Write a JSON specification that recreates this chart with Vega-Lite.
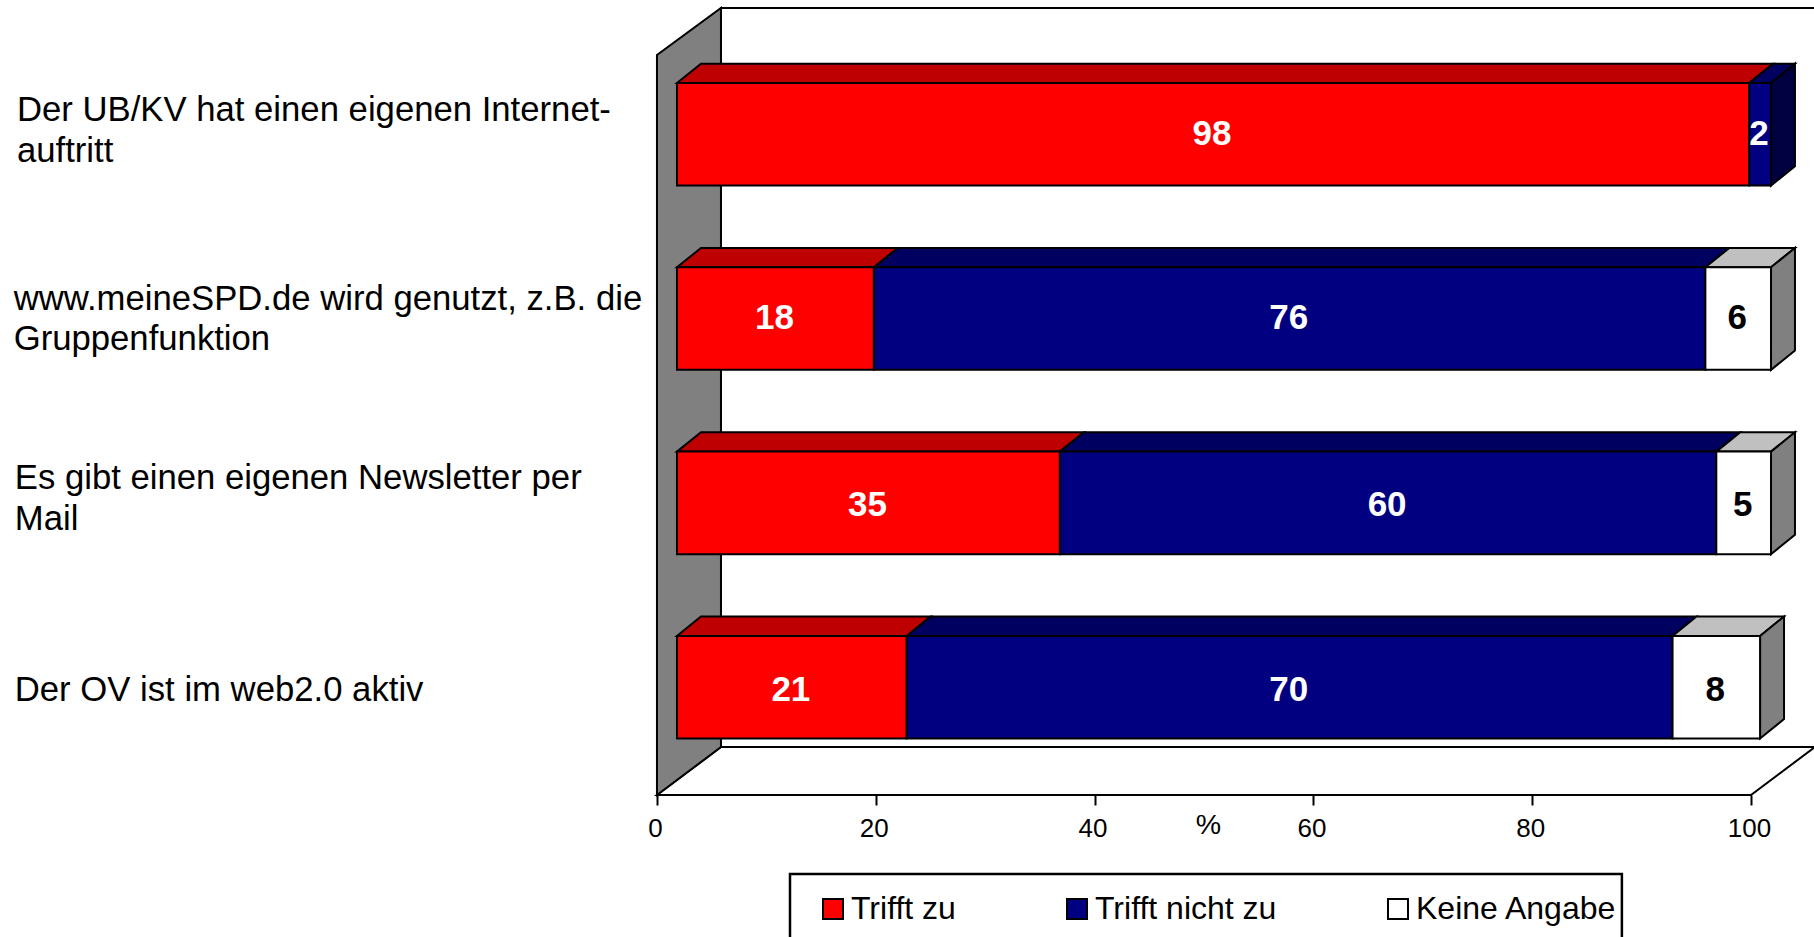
{
"$schema":"https://vega.github.io/schema/vega-lite/v6.json",
"width":1814,"height":937,"padding":0,"autosize":{"type":"none"},"background":"white",
"config":{"view":{"stroke":null},"font":"Liberation Sans"},
"datasets":{
"antworten":[
{"frage":"Der UB/KV hat einen eigenen Internet-\nauftritt","antwort":"Trifft zu","prozent":98},
{"frage":"Der UB/KV hat einen eigenen Internet-\nauftritt","antwort":"Trifft nicht zu","prozent":2},
{"frage":"www.meineSPD.de wird genutzt, z.B. die\nGruppenfunktion","antwort":"Trifft zu","prozent":18},
{"frage":"www.meineSPD.de wird genutzt, z.B. die\nGruppenfunktion","antwort":"Trifft nicht zu","prozent":76},
{"frage":"www.meineSPD.de wird genutzt, z.B. die\nGruppenfunktion","antwort":"Keine Angabe","prozent":6},
{"frage":"Es gibt einen eigenen Newsletter per\nMail","antwort":"Trifft zu","prozent":35},
{"frage":"Es gibt einen eigenen Newsletter per\nMail","antwort":"Trifft nicht zu","prozent":60},
{"frage":"Es gibt einen eigenen Newsletter per\nMail","antwort":"Keine Angabe","prozent":5},
{"frage":"Der OV ist im web2.0 aktiv","antwort":"Trifft zu","prozent":21},
{"frage":"Der OV ist im web2.0 aktiv","antwort":"Trifft nicht zu","prozent":70},
{"frage":"Der OV ist im web2.0 aktiv","antwort":"Keine Angabe","prozent":8}
],
"seitenwand":[{"a":0,"b":3.589,"c":-0.426},{"a":5.85,"b":3.329,"c":-0.681}],
"boden":[{"a":0,"b":100,"c":3.589},{"a":5.85,"b":105.85,"c":3.329}],
"rueckwand":[{"a":5.85,"b":106,"c":-0.681,"d":3.329}],
"legendenrahmen":[{"a":12.16,"b":88.2,"c":4.018,"d":4.5}]
},
"layer":[
{"data":{"name":"rueckwand"},"mark":{"type":"rect","fill":"white","stroke":"black","strokeWidth":2},
 "encoding":{"x":{"field":"a","type":"quantitative","scale":{"domain":[-60.05,105.76],"nice":false,"zero":false},"axis":{"values":[0,20,40,60,80,100],"title":"%","titleFontSize":28.5,"titleFontWeight":"normal","titleColor":"black","titleX":1208,"titleY":38,"titleBaseline":"alphabetic","domain":false,"grid":false,"ticks":true,"tickColor":"black","tickWidth":2,"tickSize":10,"labelFontSize":26,"labelColor":"black","labelPadding":10,"labelOffset":-2,"labelFlush":false,"labelOverlap":false,"offset":-142,"zindex":1}},"x2":{"field":"b"},
 "y":{"field":"c","type":"quantitative","scale":{"domain":[-0.7244,4.3597],"reverse":true,"nice":false,"zero":false},"axis":null},"y2":{"field":"d"}}},
{"data":{"name":"boden"},"mark":{"type":"area","orient":"horizontal","fill":"white","stroke":"black","strokeWidth":2},
 "encoding":{"x":{"field":"a","type":"quantitative"},"x2":{"field":"b"},
 "y":{"field":"c","type":"quantitative","axis":null}}},
{"data":{"name":"seitenwand"},"mark":{"type":"area","orient":"vertical","fill":"#808080","stroke":"black","strokeWidth":2},
 "encoding":{"x":{"field":"a","type":"quantitative"},"y":{"field":"b","type":"quantitative","axis":null},"y2":{"field":"c"}}},
{"data":{"name":"legendenrahmen"},"mark":{"type":"rect","fill":"white","stroke":"black","strokeWidth":2.5},
 "encoding":{"x":{"field":"a","type":"quantitative"},"x2":{"field":"b"},"y":{"field":"c","type":"quantitative","axis":null},"y2":{"field":"d"}}},
{"data":{"name":"antworten"},
 "transform":[
 {"calculate":"indexof(['Der UB/KV hat einen eigenen Internet-\\nauftritt','www.meineSPD.de wird genutzt, z.B. die\\nGruppenfunktion','Es gibt einen eigenen Newsletter per\\nMail','Der OV ist im web2.0 aktiv'],datum.frage)","as":"i"},
 {"calculate":"indexof(['Trifft zu','Trifft nicht zu','Keine Angabe'],datum.antwort)","as":"ord"},
 {"stack":"prozent","groupby":["frage"],"sort":[{"field":"ord","order":"ascending"}],"as":["s0","s1"]},
 {"calculate":"datum.s0+1.83","as":"xs"},
 {"calculate":"datum.s1+1.83","as":"xe"},
 {"calculate":"(datum.xs+datum.xe)/2","as":"xm"},
 {"calculate":"datum.i-0.274","as":"yt"},
 {"calculate":"datum.i+0.2825","as":"yb"},
 {"joinaggregate":[{"op":"max","field":"s1","as":"maxEnd"}],"groupby":["frage"]}
 ],
 "layer":[
 {"transform":[{"calculate":"[0,1]","as":"d"},{"flatten":["d"]},
  {"calculate":"datum.xs+datum.d*2.19","as":"tx"},{"calculate":"datum.xe+datum.d*2.19","as":"tx2"},{"calculate":"datum.yt-datum.d*0.105","as":"ty"},{"calculate":"datum.frage+datum.antwort","as":"key"}],
  "mark":{"type":"area","orient":"horizontal","stroke":"black","strokeWidth":2,"opacity":1},
  "encoding":{"x":{"field":"tx","type":"quantitative"},"x2":{"field":"tx2"},"y":{"field":"ty","type":"quantitative","axis":null},"detail":{"field":"key"},
  "color":{"field":"antwort","type":"nominal","legend":null,"scale":{"domain":["Trifft zu","Trifft nicht zu","Keine Angabe"],"range":["#BF0000","#000060","#C0C0C0"]}}}},
 {"transform":[{"filter":"datum.s1==datum.maxEnd"},{"calculate":"[0,1]","as":"d"},{"flatten":["d"]},
  {"calculate":"datum.xe+datum.d*2.19","as":"rx"},{"calculate":"datum.yt-datum.d*0.105","as":"ry"},{"calculate":"datum.yb-datum.d*0.105","as":"ry2"},{"calculate":"datum.frage+datum.antwort","as":"key"}],
  "mark":{"type":"area","orient":"vertical","stroke":"black","strokeWidth":2,"opacity":1},
  "encoding":{"x":{"field":"rx","type":"quantitative"},"y":{"field":"ry","type":"quantitative","axis":null},"y2":{"field":"ry2"},"detail":{"field":"key"},
  "color":{"field":"antwort","type":"nominal","legend":null,"scale":{"domain":["Trifft zu","Trifft nicht zu","Keine Angabe"],"range":["#800000","#000040","#808080"]}}}},
 {"mark":{"type":"rect","stroke":"black","strokeWidth":2,"opacity":1},
  "encoding":{"x":{"field":"xs","type":"quantitative"},"x2":{"field":"xe"},"y":{"field":"yt","type":"quantitative","axis":null},"y2":{"field":"yb"},
  "color":{"field":"antwort","type":"nominal","sort":null,"scale":{"domain":["Trifft zu","Trifft nicht zu","Keine Angabe"],"range":["#FF0000","#000080","#FFFFFF"]},
   "legend":{"title":null,"orient":"none","legendX":817,"legendY":893,"direction":"horizontal","columns":3,"gridAlign":"each","columnPadding":105,"padding":0,"symbolType":"square","symbolSize":400,"symbolStrokeColor":"black","symbolStrokeWidth":2,"symbolOpacity":1,"labelFontSize":32,"labelColor":"black","labelFont":"Liberation Sans","labelOffset":2,"labelLimit":400}}}},
 {"transform":[{"calculate":"datum.i+[0,0,0.018,0.018][datum.i]","as":"vy"}],
  "mark":{"type":"text","fontSize":35,"fontWeight":"bold","align":"center","baseline":"middle","dx":-1},
  "encoding":{"x":{"field":"xm","type":"quantitative"},"y":{"field":"vy","type":"quantitative","axis":null},"text":{"field":"prozent","type":"quantitative"},
  "color":{"field":"antwort","type":"nominal","legend":null,"scale":{"domain":["Trifft zu","Trifft nicht zu","Keine Angabe"],"range":["#FFFFFF","#FFFFFF","#000000"]}}}},
 {"transform":[{"filter":"datum.ord==0"},{"calculate":"datum.i+[-0.12,-0.098,-0.123,0.024][datum.i]","as":"ly"},{"calculate":"[-58.5,-58.8,-58.7,-58.7][datum.i]","as":"lx"}],
  "mark":{"type":"text","fontSize":34.7,"lineBreak":"\n","lineHeight":40.5,"align":"left","baseline":"middle","color":"black"},
  "encoding":{"x":{"field":"lx","type":"quantitative"},"y":{"field":"ly","type":"quantitative","axis":null},"text":{"field":"frage"}}}
 ],
 "resolve":{"scale":{"color":"independent"}}
}
]
}
